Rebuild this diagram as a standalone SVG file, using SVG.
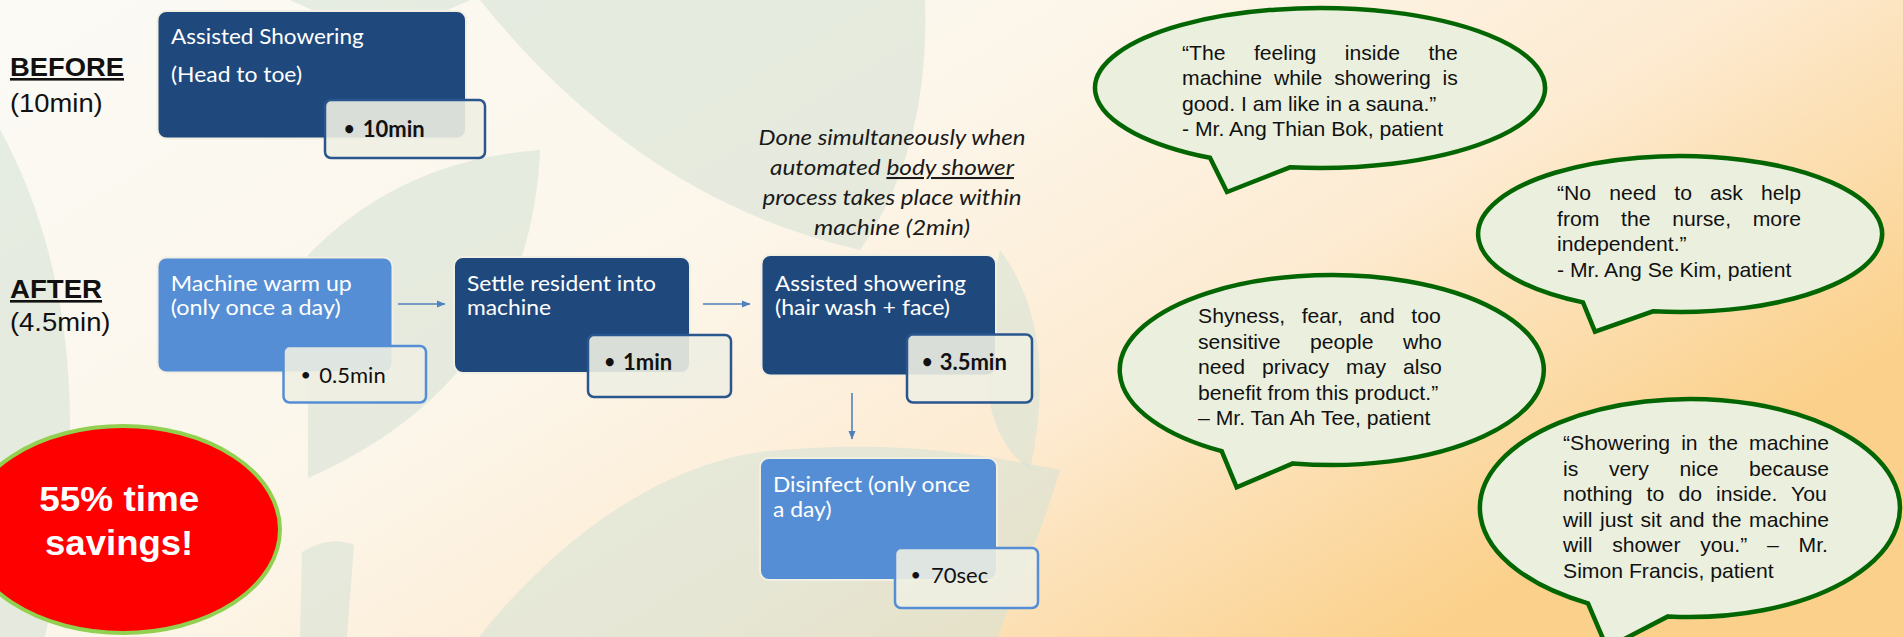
<svg xmlns="http://www.w3.org/2000/svg" width="1903" height="637" viewBox="0 0 1903 637">
<defs>
<linearGradient id="bg" x1="0" y1="0" x2="1" y2="0.55">
<stop offset="0" stop-color="#fbfaf5"/>
<stop offset="0.45" stop-color="#fcf6ea"/>
<stop offset="0.7" stop-color="#fdebd2"/>
<stop offset="1" stop-color="#fbd08a"/>
</linearGradient>
<marker id="ah" markerWidth="9" markerHeight="8" refX="8" refY="4" orient="auto" markerUnits="userSpaceOnUse">
<path d="M0,0.5 L8.5,4 L0,7.5 Z" fill="#4f81bd"/>
</marker>
<style>
.leaf{fill:#d7e2d6;opacity:0.6}
.dark{fill:#1f497d;stroke:#f1eee2;stroke-width:2}
.light{fill:#558ed5;stroke:#f1eee2;stroke-width:2}
.subd{fill:#eeeee2;fill-opacity:0.9;stroke:#2a568e;stroke-width:2.5}
.subl{fill:#eeeee2;fill-opacity:0.9;stroke:#558ed5;stroke-width:2.5}
.bt{font-family:Lato,"Open Sans",sans-serif;font-size:21.5px;fill:#ffffff}
.sv{font-family:Lato,"Open Sans",sans-serif;font-size:22px;fill:#111111}
.svb{font-family:Lato,"Open Sans",sans-serif;font-size:22px;font-weight:bold;fill:#111111}
.dot{font-size:18px}
.hd{font-family:"Liberation Sans",Arial,sans-serif;font-size:26px;fill:#111111}
.it{font-family:Lato,"Open Sans",sans-serif;font-size:20.5px;font-style:italic;fill:#1a1a1a}
.bub{fill:#ebf0de;stroke:#036603;stroke-width:4.5;stroke-linejoin:miter}
.q{font-family:"Liberation Sans",Arial,sans-serif;font-size:20px;fill:#111111}
.conn{stroke:#4f81bd;stroke-width:1.6;fill:none}
</style>
</defs>
<rect width="1903" height="637" fill="url(#bg)"/>
<g id="background-leaves">
<path class="leaf" d="M-30 80 Q 120 300 45 637 L -30 637 Z"/>
<path class="leaf" d="M290 0 Q 380 45 470 0 Z"/>
<path class="leaf" d="M480 0 L 925 0 Q 930 150 860 250 Q 640 200 480 0 Z"/>
<path class="leaf" d="M308 478 L 308 255 Q 400 160 540 150 Q 530 380 308 478 Z"/>
<path class="leaf" d="M300 637 L 302 552 Q 330 535 354 545 L 347 637 Z"/>
<path class="leaf" d="M479 637 C 540 560 640 470 760 452 C 880 440 960 450 1060 470 C 1040 540 1010 600 998 637 Z"/>
<path class="leaf" d="M1000 250 Q 1060 330 1030 470 Q 960 420 1000 250 Z"/>
</g>
<g id="before-label">
<text class="hd" x="10" y="76" font-weight="bold" text-decoration="underline" textLength="114" lengthAdjust="spacingAndGlyphs">BEFORE</text>
<text class="hd" x="10" y="111.7" textLength="92.7" lengthAdjust="spacingAndGlyphs">(10min)</text>
</g>
<g id="after-label">
<text class="hd" x="10" y="298" font-weight="bold" text-decoration="underline" textLength="92" lengthAdjust="spacingAndGlyphs">AFTER</text>
<text class="hd" x="10" y="330.5" textLength="100.5" lengthAdjust="spacingAndGlyphs">(4.5min)</text>
</g>
<g id="before-box">
<rect class="dark" x="157.5" y="11" width="308.5" height="127.5" rx="9"/>
<text class="bt" x="171" y="44.3" textLength="192.7" lengthAdjust="spacingAndGlyphs">Assisted Showering</text>
<text class="bt" x="171" y="81.7" textLength="131" lengthAdjust="spacingAndGlyphs">(Head to toe)</text>
<rect class="subd" x="325" y="100" width="160" height="58" rx="6"/>
<text class="svb"><tspan class="dot" x="344" y="135">•</tspan><tspan x="362.7" y="136.7">10min</tspan></text>
</g>
<g id="box-warmup">
<rect class="light" x="157.5" y="257.5" width="235" height="115" rx="9"/>
<text class="bt" x="170.7" y="291" textLength="181" lengthAdjust="spacingAndGlyphs">Machine warm up</text>
<text class="bt" x="170.7" y="315" textLength="170" lengthAdjust="spacingAndGlyphs">(only once a day)</text>
<rect class="subl" x="283.5" y="346" width="142.5" height="56.5" rx="6"/>
<text class="sv"><tspan class="dot" x="300.5" y="381">•</tspan><tspan x="319.3" y="382.7">0.5min</tspan></text>
</g>
<g id="box-settle">
<rect class="dark" x="454" y="257" width="236" height="116" rx="9"/>
<text class="bt" x="467" y="291" textLength="189" lengthAdjust="spacingAndGlyphs">Settle resident into</text>
<text class="bt" x="467" y="315" textLength="84" lengthAdjust="spacingAndGlyphs">machine</text>
<rect class="subd" x="588" y="335" width="143" height="62" rx="6"/>
<text class="svb"><tspan class="dot" x="604.5" y="368.3">•</tspan><tspan x="623" y="370">1min</tspan></text>
</g>
<g id="box-assisted">
<rect class="dark" x="761.5" y="255" width="234.5" height="120.5" rx="9"/>
<text class="bt" x="775" y="291" textLength="191" lengthAdjust="spacingAndGlyphs">Assisted showering</text>
<text class="bt" x="775" y="315" textLength="175" lengthAdjust="spacingAndGlyphs">(hair wash + face)</text>
<rect class="subd" x="907" y="334.5" width="125" height="68" rx="6"/>
<text class="svb"><tspan class="dot" x="922" y="368.3">•</tspan><tspan x="939.7" y="370">3.5min</tspan></text>
</g>
<g id="box-disinfect">
<rect class="light" x="760" y="458" width="237" height="122" rx="9"/>
<text class="bt" x="773" y="492" textLength="197" lengthAdjust="spacingAndGlyphs">Disinfect (only once</text>
<text class="bt" x="773" y="516.5" textLength="58.5" lengthAdjust="spacingAndGlyphs">a day)</text>
<rect class="subl" x="895" y="548" width="143" height="60" rx="6"/>
<text class="sv"><tspan class="dot" x="910.5" y="581.3">•</tspan><tspan x="931" y="583">70sec</tspan></text>
</g>
<g id="note-simultaneous">
<text class="it" x="758.5" y="145" textLength="267" lengthAdjust="spacingAndGlyphs">Done simultaneously when</text>
<text class="it" x="770" y="175" textLength="244" lengthAdjust="spacingAndGlyphs">automated <tspan text-decoration="underline">body shower</tspan></text>
<text class="it" x="762.5" y="205" textLength="259" lengthAdjust="spacingAndGlyphs">process takes place within</text>
<text class="it" x="814" y="235" textLength="156" lengthAdjust="spacingAndGlyphs">machine (2min)</text>
</g>
<g id="connectors">
<line class="conn" x1="398" y1="304" x2="445" y2="304" marker-end="url(#ah)"/>
<line class="conn" x1="703" y1="304" x2="750" y2="304" marker-end="url(#ah)"/>
<line class="conn" x1="852" y1="393" x2="852" y2="439" marker-end="url(#ah)"/>
</g>
<g id="savings">
<ellipse cx="123" cy="529.5" rx="157" ry="103.5" fill="#ff0000" stroke="#92d050" stroke-width="4"/>
<text x="39.3" y="510.7" font-family="Liberation Sans,Arial,sans-serif" font-size="34.5" font-weight="bold" fill="#ffffff" textLength="160" lengthAdjust="spacingAndGlyphs">55% time</text>
<text x="45" y="555" font-family="Liberation Sans,Arial,sans-serif" font-size="34.5" font-weight="bold" fill="#ffffff" textLength="148.3" lengthAdjust="spacingAndGlyphs">savings!</text>
</g>
<g id="quote-1">
<path class="bub" d="M1290 167.3 A225 80 0 1 0 1210 157.8 L1227 192 Z"/>
<text class="q" transform="translate(1182 0) scale(1.06 1)">
<tspan x="0" y="60" word-spacing="21.2">“The feeling inside the</tspan>
<tspan x="0" y="85.5" word-spacing="5.67">machine while showering is</tspan>
<tspan x="0" y="111">good. I am like in a sauna.”</tspan>
<tspan x="0" y="136.5">- Mr. Ang Thian Bok, patient</tspan>
</text>
</g>
<g id="quote-2">
<path class="bub" d="M1653 311.3 A202 78 0 1 0 1583 302.4 L1595 331.7 Z"/>
<text class="q" transform="translate(1557 0) scale(1.06 1)">
<tspan x="0" y="200" word-spacing="11.44">“No need to ask help</tspan>
<tspan x="0" y="225.7" word-spacing="14.89">from the nurse, more</tspan>
<tspan x="0" y="251.4">independent.”</tspan>
<tspan x="0" y="277">- Mr. Ang Se Kim, patient</tspan>
</text>
</g>
<g id="quote-3">
<path class="bub" d="M1293 463.4 A212 95 0 1 0 1221.7 451.2 L1236.7 487.3 Z"/>
<text class="q" transform="translate(1198 0) scale(1.06 1)">
<tspan x="0" y="323.5" word-spacing="10.03">Shyness, fear, and too</tspan>
<tspan x="0" y="349" word-spacing="22.28">sensitive people who</tspan>
<tspan x="0" y="374.5" word-spacing="10.41">need privacy may also</tspan>
<tspan x="0" y="400">benefit from this product.”</tspan>
<tspan x="0" y="425.5">– Mr. Tan Ah Tee, patient</tspan>
</text>
</g>
<g id="quote-4">
<path class="bub" d="M1668 616.4 A210 109 0 1 0 1588 603.3 L1607 648 Z"/>
<text class="q" transform="translate(1563 0) scale(1.06 1)">
<tspan x="0" y="450.5" word-spacing="4.81">“Showering in the machine</tspan>
<tspan x="0" y="476" word-spacing="23.34">is very nice because</tspan>
<tspan x="0" y="501.5" word-spacing="7.77">nothing to do inside. You</tspan>
<tspan x="0" y="527" word-spacing="1.56">will just sit and the machine</tspan>
<tspan x="0" y="552.5" word-spacing="13.07">will shower you.” – Mr.</tspan>
<tspan x="0" y="578">Simon Francis, patient</tspan>
</text>
</g>
</svg>
